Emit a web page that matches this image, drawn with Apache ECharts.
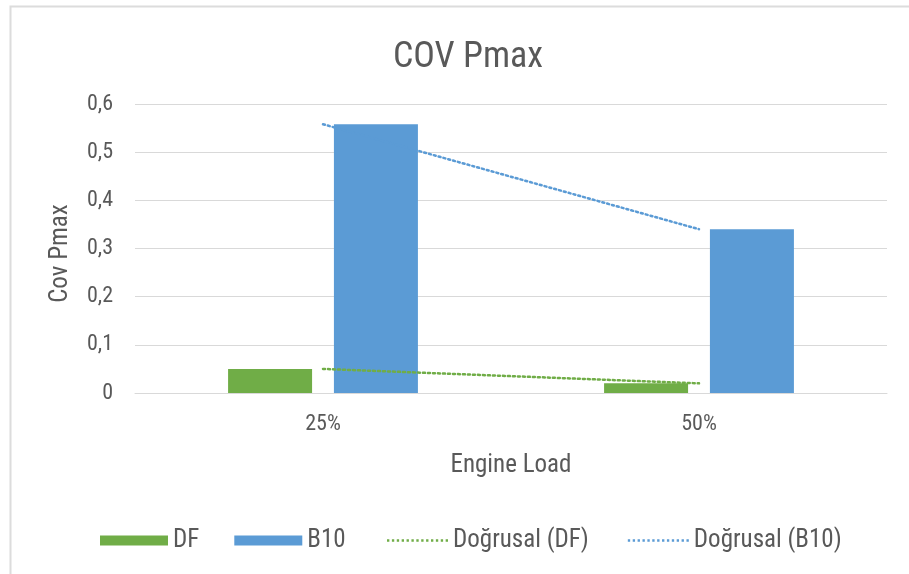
<!DOCTYPE html>
<html>
<head>
<meta charset="utf-8">
<script src="https://cdn.jsdelivr.net/npm/echarts@6/dist/echarts.min.js"></script>
<style>
html,body{margin:0;padding:0;background:#fff;}
#c{width:909px;height:574px;}
</style>
</head>
<body>
<div id="c"></div>
<script>
const categories = ['25%', '50%'];
const dfValues = [0.05, 0.02];
const b10Values = [0.558, 0.34];
const yTicks = [0, 0.1, 0.2, 0.3, 0.4, 0.5, 0.6];

function linearTrend(vals) {
  const n = vals.length;
  const xs = vals.map((_, i) => i + 1);
  const mx = xs.reduce((a, b) => a + b, 0) / n;
  const my = vals.reduce((a, b) => a + b, 0) / n;
  let num = 0, den = 0;
  for (let i = 0; i < n; i++) { num += (xs[i] - mx) * (vals[i] - my); den += (xs[i] - mx) ** 2; }
  const slope = num / den;
  return xs.map(x => my + slope * (x - mx));
}

// dotted legend icon path
let dotPath = 'path://';
for (let i = 0; i < 13; i++) dotPath += 'M' + (i * 5) + ' 0h2.4v2.4h-2.4z';

const FONT = '"Roboto Condensed", "Roboto", sans-serif';
const TXT = '#595959';
const GREEN = '#70AD47';
const BLUE = '#5B9BD5';

const chart = echarts.init(document.getElementById('c'), null, {renderer: 'canvas'});
chart.setOption({
  animation: false,
  textStyle: {fontFamily: FONT},
  graphic: [{
    type: 'rect', left: 8, top: 4, shape: {width: 940, height: 569},
    style: {fill: 'none', stroke: '#DCDCDC', lineWidth: 2}, silent: true
  }],
  title: {
    text: 'COV Pmax', left: 463, top: 35, textAlign: 'center',
    textStyle: {fontFamily: FONT, fontSize: 36, fontWeight: 'normal', color: TXT}
  },
  legend: [{
    left: 95, top: 523, itemWidth: 68, itemHeight: 10, itemGap: 35, icon: 'rect',
    textStyle: {fontFamily: FONT, fontSize: 25, color: TXT},
    data: ['DF', 'B10']
  }, {
    left: 382, top: 523, itemWidth: 61, itemHeight: 10, itemGap: 39,
    textStyle: {fontFamily: FONT, fontSize: 25, color: TXT},
    data: [{name: 'Doğrusal (DF)', icon: dotPath}, {name: 'Doğrusal (B10)', icon: dotPath}]
  }],
  grid: {left: 135, right: 22, top: 104, bottom: 181},
  xAxis: {
    type: 'category', data: categories,
    axisLine: {lineStyle: {color: '#D9D9D9', width: 1}},
    axisTick: {show: false},
    axisLabel: {color: TXT, fontFamily: FONT, fontSize: 22, margin: 20},
    name: 'Engine Load', nameLocation: 'middle', nameGap: 60,
    nameTextStyle: {color: TXT, fontFamily: FONT, fontSize: 25}
  },
  yAxis: {
    type: 'value', min: yTicks[0], max: yTicks[yTicks.length - 1], interval: 0.1,
    axisLine: {show: false}, axisTick: {show: false},
    splitLine: {lineStyle: {color: '#D9D9D9', width: 1}},
    axisLabel: {color: TXT, fontFamily: FONT, fontSize: 22, margin: 22,
      formatter: v => String(Math.round(v * 10) / 10).replace('.', ',')},
    name: 'Cov Pmax', nameLocation: 'middle', nameGap: 62, nameRotate: 90,
    nameTextStyle: {color: TXT, fontFamily: FONT, fontSize: 25, padding: [0, 10, 0, 0]}
  },
  series: [
    {name: 'DF', type: 'bar', data: dfValues, barWidth: 84, barGap: '26%', itemStyle: {color: GREEN}},
    {name: 'B10', type: 'bar', data: b10Values, barWidth: 84, barGap: '26%', itemStyle: {color: BLUE}},
    {name: 'Doğrusal (DF)', type: 'line', data: linearTrend(dfValues), symbol: 'none', z: 5,
      itemStyle: {color: GREEN},
      lineStyle: {color: GREEN, width: 2.5, type: [2, 3], cap: 'round'}},
    {name: 'Doğrusal (B10)', type: 'line', data: linearTrend(b10Values), symbol: 'none', z: 5,
      itemStyle: {color: BLUE},
      lineStyle: {color: BLUE, width: 2.5, type: [2, 3], cap: 'round'}}
  ]
});
</script>
</body>
</html>
